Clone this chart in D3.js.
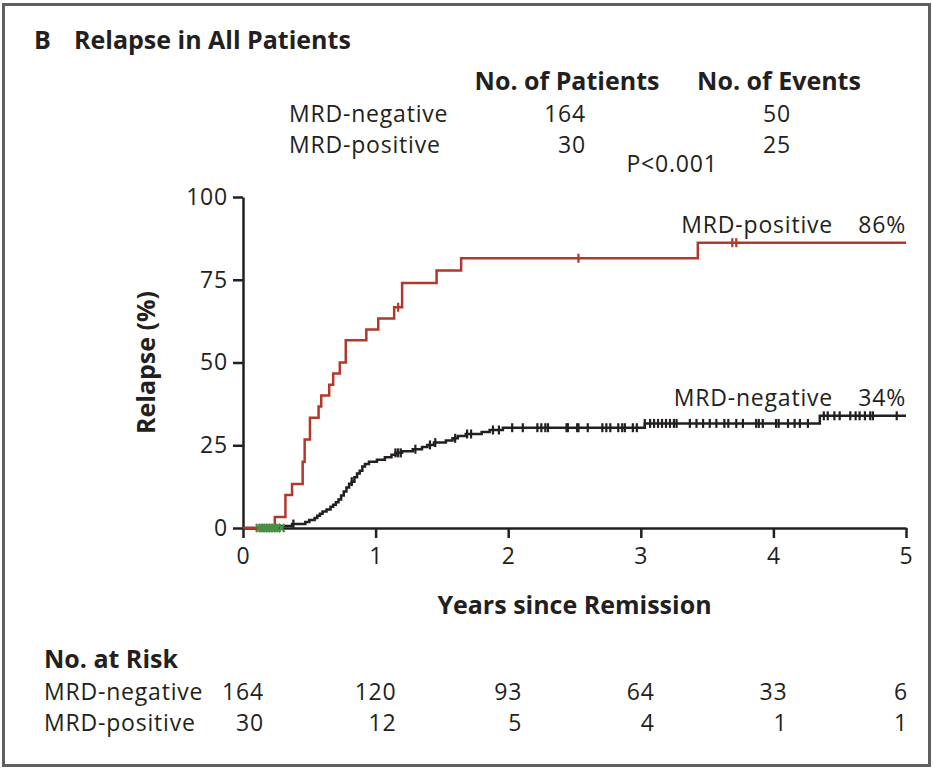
<!DOCTYPE html>
<html><head><meta charset="utf-8">
<script src="https://cdn.jsdelivr.net/npm/d3@7"></script>
<style>
html,body{margin:0;padding:0;background:#fff;}
svg{display:block;}
text{font-family:"Open Sans","DejaVu Sans",sans-serif;fill:#231f20;}
.r{font-size:23px;letter-spacing:0.8px;}
.b{font-weight:700;font-size:25px;}
</style></head>
<body>
<script>
// ---------- data ----------
const yearTicks = [0, 1, 2, 3, 4, 5];
const pctTicks = [0, 25, 50, 75, 100];

const redTimes  = [0, 0.24, 0.32, 0.37, 0.45, 0.465, 0.505, 0.57, 0.59, 0.65, 0.68, 0.73, 0.775, 0.93, 1.02, 1.14, 1.20, 1.46, 1.645, 3.43];
const redValues = [0, 3.3, 10.0, 13.3, 20.0, 26.7, 33.3, 36.7, 40.0, 43.3, 46.7, 50.0, 56.7, 60.0, 63.3, 66.7, 74.0, 77.8, 81.5, 86.2];
const redCensor = [1.17, 2.53, 3.69, 3.72];

const blackTimes  = [0, 0.28, 0.37, 0.47, 0.50, 0.54, 0.56, 0.58, 0.60, 0.63, 0.66, 0.68, 0.70, 0.72, 0.74, 0.76, 0.78, 0.80, 0.82, 0.84, 0.86, 0.88, 0.90, 0.92, 0.95, 1.01, 1.07, 1.12, 1.15, 1.20, 1.28, 1.35, 1.39, 1.44, 1.53, 1.58, 1.62, 1.68, 1.80, 1.86, 1.96, 3.03, 4.35];
const blackValues = [0, 0.6, 1.2, 1.8, 2.4, 3.0, 3.7, 4.3, 5.0, 5.6, 6.4, 7.0, 7.8, 8.6, 9.8, 11.0, 12.2, 13.4, 14.0, 15.3, 16.5, 17.3, 18.6, 19.3, 20.0, 20.6, 21.4, 22.1, 22.7, 23.2, 23.8, 24.5, 25.1, 25.8, 26.4, 27.1, 27.8, 28.4, 29.0, 29.6, 30.3, 31.6, 33.9];
const blackCensor = [0.38, 0.82, 1.15, 1.17, 1.19, 1.30, 1.41, 1.45, 1.60, 1.69, 1.72, 1.885, 1.93, 2.03, 2.11, 2.22, 2.25, 2.28, 2.30, 2.44, 2.45, 2.52, 2.53, 2.60, 2.71, 2.74, 2.77, 2.83, 2.86, 2.88, 2.94, 2.97, 3.03, 3.07, 3.10, 3.13, 3.16, 3.19, 3.22, 3.25, 3.27, 3.37, 3.42, 3.47, 3.52, 3.57, 3.63, 3.66, 3.72, 3.77, 3.87, 3.89, 3.92, 4.02, 4.04, 4.11, 4.16, 4.20, 4.26, 4.38, 4.41, 4.46, 4.50, 4.58, 4.62, 4.65, 4.69, 4.73, 4.75, 4.93];
const greenCensor = [0.12, 0.14, 0.16, 0.18, 0.20, 0.22, 0.24, 0.26, 0.29];

const groups = ["MRD-negative", "MRD-positive"];
const nPatients = [164, 30];
const nEvents = [50, 25];
const finalPct = ["34%", "86%"];
const atRiskNeg = [164, 120, 93, 64, 33, 6];
const atRiskPos = [30, 12, 5, 4, 1, 1];
const pValue = "P<0.001";

// ---------- drawing ----------
const W = 933, H = 771;
const svg = d3.select("body").append("svg").attr("width", W).attr("height", H);

svg.append("rect").attr("x", 3.5).attr("y", 4.5).attr("width", 926).attr("height", 761)
  .attr("fill", "none").attr("stroke", "#5f5f5f").attr("stroke-width", 3);

const x = d3.scaleLinear().domain([0, 5]).range([243, 906]);
const y = d3.scaleLinear().domain([0, 100]).range([528, 197]);

const RED = "#b2382b", BLACK = "#231f20", GREEN = "#4a8f45";

// title
svg.append("text").attr("class","b").attr("x", 34).attr("y", 49).text("B");
svg.append("text").attr("class","b").attr("x", 74).attr("y", 49).text("Relapse in All Patients");

// header table
svg.append("text").attr("class","b").attr("x", 567).attr("y", 90).attr("text-anchor","middle").text("No. of Patients");
svg.append("text").attr("class","b").attr("x", 779).attr("y", 90).attr("text-anchor","middle").text("No. of Events");
groups.forEach((g, i) => {
  const yy = 122 + i * 31;
  svg.append("text").attr("class","r").attr("x", 289).attr("y", yy).text(g);
  svg.append("text").attr("class","r").attr("x", 586).attr("y", yy).attr("text-anchor","end").text(nPatients[i]);
  svg.append("text").attr("class","r").attr("x", 777).attr("y", yy).attr("text-anchor","middle").text(nEvents[i]);
});
svg.append("text").attr("class","r").attr("x", 672).attr("y", 172).attr("text-anchor","middle").text(pValue);

// axes
const yAxis = d3.axisLeft(y).tickValues(pctTicks).tickSize(10).tickSizeOuter(0).tickPadding(5);
const gy = svg.append("g").attr("transform", `translate(${x(0)},0)`).call(yAxis);
const xAxis = d3.axisBottom(x).tickValues(yearTicks).tickFormat(d3.format("d")).tickSize(10).tickSizeOuter(0).tickPadding(10);
const gx = svg.append("g").attr("transform", `translate(0,${y(0)})`).call(xAxis);
[gx, gy].forEach(g => {
  g.selectAll("path.domain").attr("stroke", BLACK).attr("stroke-width", 2.5);
  g.selectAll(".tick line").attr("stroke", BLACK).attr("stroke-width", 2.5);
  g.selectAll(".tick text").attr("class","r").attr("fill", BLACK)
    .style("font-family", '"Open Sans", sans-serif');
});

// axis titles
svg.append("text").attr("class","b").attr("transform", `translate(155,${y(50)}) rotate(-90)`)
  .attr("text-anchor","middle").text("Relapse (%)");
svg.append("text").attr("class","b").attr("x", (x(0)+x(5))/2).attr("y", 614)
  .attr("text-anchor","middle").text("Years since Remission");

// curves
function stepData(times, vals, end) {
  const d = times.map((t, i) => [t, vals[i]]);
  d.push([end, vals[vals.length - 1]]);
  return d;
}
const line = d3.line().x(d => x(d[0])).y(d => y(d[1])).curve(d3.curveStepAfter);
function valueAt(times, vals, t) {
  let v = 0;
  for (let i = 0; i < times.length; i++) if (times[i] <= t) v = vals[i];
  return v;
}

svg.append("path").datum(stepData(blackTimes, blackValues, 5)).attr("d", line)
  .attr("fill","none").attr("stroke", BLACK).attr("stroke-width", 2.5);
svg.append("path").datum(stepData(redTimes, redValues, 5)).attr("d", line)
  .attr("fill","none").attr("stroke", RED).attr("stroke-width", 2.5);

function censorMarks(times, tArr, vArr, color, h) {
  svg.append("g").selectAll("line").data(times).join("line")
    .attr("x1", d => x(d)).attr("x2", d => x(d))
    .attr("y1", d => y(valueAt(tArr, vArr, d)) - h)
    .attr("y2", d => y(valueAt(tArr, vArr, d)) + h)
    .attr("stroke", color).attr("stroke-width", 2.2);
}
censorMarks(blackCensor, blackTimes, blackValues, BLACK, 4.5);
censorMarks(redCensor, redTimes, redValues, RED, 4.5);
// green crosses at baseline
svg.append("g").selectAll("path").data(greenCensor).join("path")
  .attr("d", d => { const cx = x(d), cy = y(0); return `M${cx-3},${cy-4}L${cx+3},${cy+4}M${cx+3},${cy-4}L${cx-3},${cy+4}`; })
  .attr("stroke", GREEN).attr("stroke-width", 2.2).attr("fill","none");

// curve labels
const labelY = [406, 233];
groups.forEach((g, i) => {
  svg.append("text").attr("class","r").attr("x", 833).attr("y", labelY[i]).attr("text-anchor","end").text(g);
  svg.append("text").attr("class","r").attr("x", 906).attr("y", labelY[i]).attr("text-anchor","end").text(finalPct[i]);
});

// at-risk table
svg.append("text").attr("class","b").attr("x", 44).attr("y", 668).text("No. at Risk");
const riskRows = [atRiskNeg, atRiskPos];
groups.forEach((g, i) => {
  svg.append("text").attr("class","r").attr("x", 44).attr("y", 700 + i * 31).text(g);
});
// right-align each column: widest entry centred on the tick
yearTicks.forEach((t, j) => {
  const texts = riskRows.map((row, i) =>
    svg.append("text").attr("class","r").attr("y", 700 + i * 31).attr("text-anchor","end").text(row[j]));
  const wmax = d3.max(texts, tx => tx.node().getComputedTextLength());
  const right = Math.min(x(t) + wmax / 2, x(5) + 2);
  texts.forEach(tx => tx.attr("x", right));
});
</script>
</body></html>
